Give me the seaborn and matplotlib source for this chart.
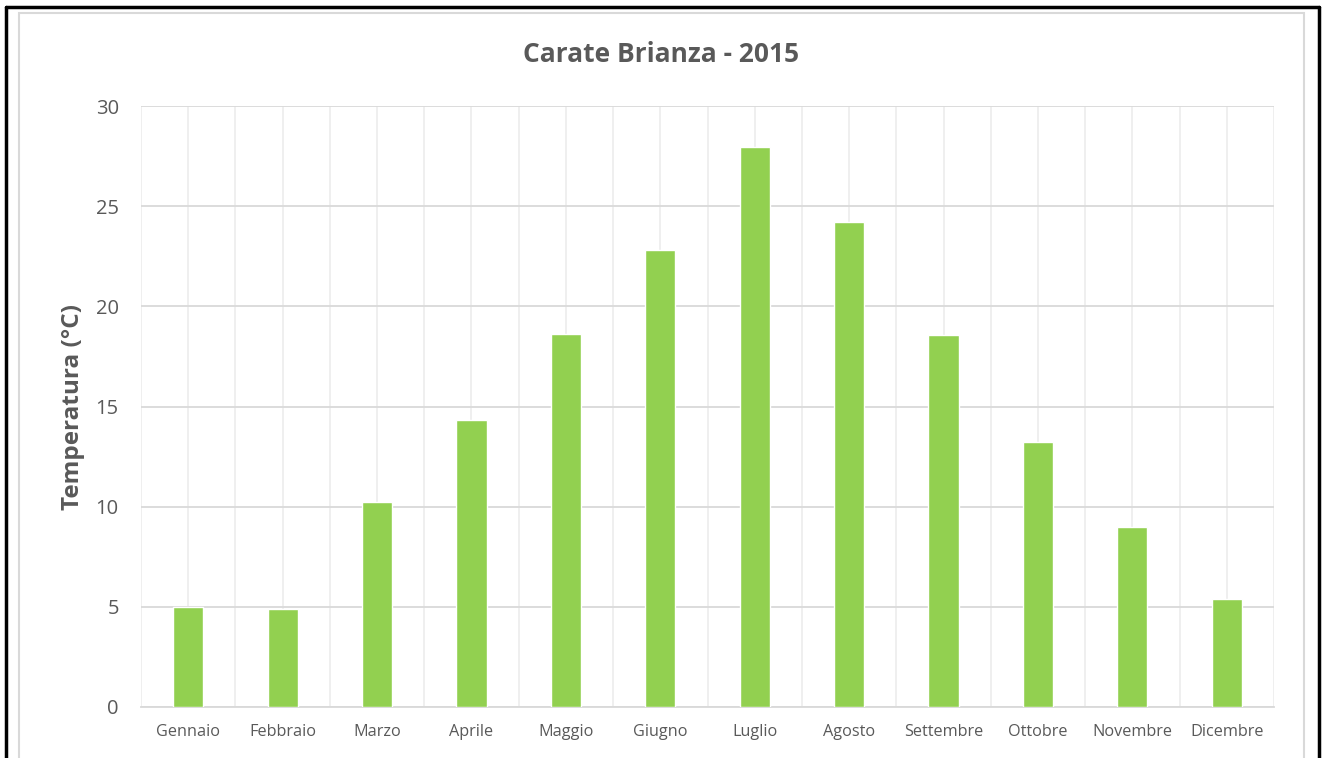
import matplotlib
matplotlib.use("Agg")
import matplotlib.pyplot as plt
import seaborn as sns
import pandas as pd
from matplotlib.lines import Line2D
from matplotlib.patches import Rectangle

months = ["Gennaio", "Febbraio", "Marzo", "Aprile", "Maggio", "Giugno",
          "Luglio", "Agosto", "Settembre", "Ottobre", "Novembre", "Dicembre"]
temps = [4.98, 4.9, 10.23, 14.33, 18.6, 22.8, 27.97, 24.2, 18.57, 13.23, 8.99, 5.38]
yticks = [0, 5, 10, 15, 20, 25, 30]
title = "Carate Brianza - 2015"
ylabel = "Temperatura (°C)"

sns.set_theme(style="white")
plt.rcParams['font.family'] = ['Open Sans', 'DejaVu Sans']

df = pd.DataFrame({"Mese": months, "Temp": temps})

fig = plt.figure(figsize=(13.22, 7.58), dpi=100)
ax = fig.add_axes([141/1322, 1-707/758, (1274-141)/1322, (707-106)/758])

sns.barplot(data=df, x="Mese", y="Temp", color="#92d050", width=0.32,
            saturation=1, ax=ax, zorder=3)

txt = "#595959"
ax.set_xlim(-0.5, 11.5)
ax.set_ylim(0, 30)
ax.set_yticks(yticks)
ax.set_yticklabels([str(v) for v in yticks], fontsize=14.5, color=txt)
ax.set_xticks(range(len(months)))
ax.set_xticklabels(months, fontsize=11.7, color=txt)
ax.set_xticks([i - 0.5 for i in range(len(months) + 1)], minor=True)
ax.tick_params(axis="both", which="both", length=0)
ax.tick_params(axis="x", pad=12.5)
ax.tick_params(axis="y", pad=16)
ax.set_xlabel("")
ax.set_ylabel(ylabel, fontsize=17.5, fontweight="bold", color=txt, labelpad=8)

ax.grid(False)
ax.yaxis.grid(True, color="#d9d9d9", linewidth=1.3, zorder=0)
ax.xaxis.grid(True, which="major", color="#eeeeee", linewidth=1.3, zorder=0)
ax.xaxis.grid(True, which="minor", color="#eeeeee", linewidth=1.3, zorder=0)
ax.set_axisbelow(True)
for s in ["top", "right", "left"]:
    ax.spines[s].set_visible(False)
ax.spines["bottom"].set_color("#d9d9d9")
ax.spines["bottom"].set_linewidth(1.3)

fig.text(661/1322, 1-55/758, title, fontsize=19, fontweight="bold", color=txt,
         ha="center", va="center")

# chart area border (light gray)
fig.add_artist(Rectangle((18.5/1322, -0.01), (1304-18.5)/1322, 1.01-13/758,
                         transform=fig.transFigure, fill=False,
                         edgecolor="#d9d9d9", linewidth=1.5))
# outer black border
kw = dict(transform=fig.transFigure, color="black", linewidth=2.5)
fig.add_artist(Line2D([6/1322, 6/1322], [0, 1-7/758], **kw))
fig.add_artist(Line2D([1319/1322, 1319/1322], [0, 1-7/758], **kw))
fig.add_artist(Line2D([6/1322, 1319/1322], [1-7/758, 1-7/758], **kw))

fig.savefig("out.png", dpi=100)
